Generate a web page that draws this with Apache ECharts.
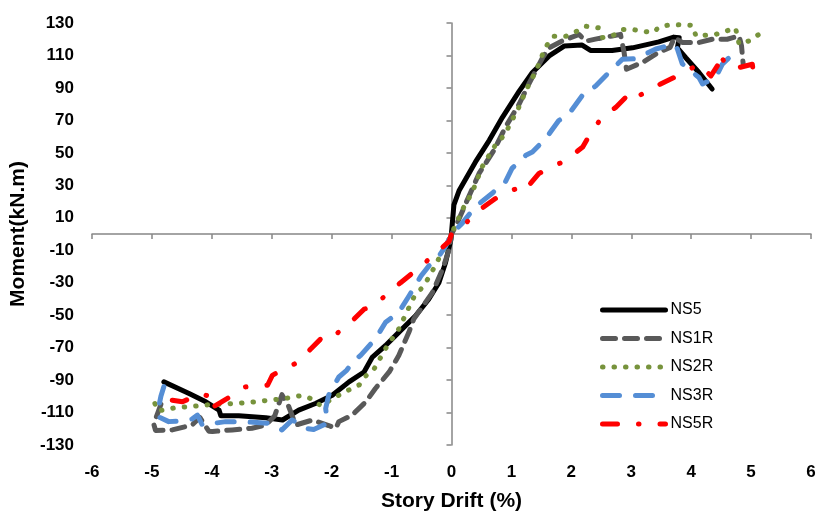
<!DOCTYPE html>
<html>
<head>
<meta charset="utf-8">
<script src="https://cdn.jsdelivr.net/npm/echarts@6/dist/echarts.min.js"></script>
<style>
  html, body { margin: 0; padding: 0; background: #ffffff; }
  #chart { width: 820px; height: 517px; }
</style>
</head>
<body>
<div id="chart"></div>
<script>
// Moment vs. story drift envelope curves, one [drift %, moment kN.m] list per specimen
const seriesNames = ['NS5', 'NS1R', 'NS2R', 'NS3R', 'NS5R'];

const ns5 = [
  [-4.80,-91.1],[-4.38,-98.3],[-4.10,-103.4],[-3.88,-108.5],[-3.85,-112],[-3.55,-112],
  [-3.10,-113.2],[-2.82,-114.6],[-2.55,-108.5],[-2.27,-104.4],[-1.99,-99.3],[-1.71,-91.1],
  [-1.46,-85],[-1.32,-75.8],[-1.10,-68.7],[-0.88,-60.6],[-0.60,-50.4],[-0.38,-40.2],
  [-0.21,-30],[-0.10,-17.7],[-0.01,-3.5],[0.04,17.9],[0.13,27],[0.40,44.4],[0.63,57.7],
  [0.85,71.9],[1.13,88],[1.35,99.5],[1.63,109.7],[1.88,115.8],[2.18,116.4],[2.32,113.1],
  [2.68,113.1],[3.02,114.7],[3.46,118.4],[3.71,121.3],[3.80,120.9],[3.77,114.7],
  [3.91,108.6],[4.13,99.5],[4.35,89.3]
];

const ns1r = [
  [-4.85,-105],[-4.90,-110],[-4.97,-117],[-4.94,-121],[-4.66,-120.7],[-4.33,-117.7],
  [-4.20,-113],[-4.05,-121.5],[-3.99,-121.7],[-3.66,-120.7],[-3.33,-119.7],[-3.10,-117.7],
  [-2.95,-112],[-2.83,-99],[-2.72,-106],[-2.60,-117.7],[-2.32,-114.6],[-2.05,-118],
  [-1.93,-119.7],[-1.88,-115.6],[-1.66,-111.6],[-1.43,-103.4],[-1.27,-95.2],[-1.04,-85],
  [-0.88,-74.9],[-0.71,-60.4],[-0.63,-52.4],[-0.32,-36.1],[-0.15,-21.8],[-0.04,-9.6],
  [0,0],[0.07,4.6],[0.24,19],[0.46,37.3],[0.71,51.6],[0.90,65.8],[1.13,80.1],[1.29,92.4],
  [1.52,108.6],[1.63,114.7],[1.85,119],[2.13,122.9],[2.24,118.8],[2.46,120.5],[2.68,122],
  [2.82,123],[2.88,112],[2.92,101.5],[3.20,106],[3.46,112],[3.65,115],[3.72,121],
  [3.85,118],[4.13,118],[4.35,120],[4.60,120],[4.80,122],[4.84,116],[4.87,104]
];

const ns2r = [
  [-4.95,-104.5],[-4.90,-109],[-4.60,-107],[-4.38,-106.4],[-4.00,-105],[-3.60,-104.4],
  [-3.27,-103.4],[-3.05,-102.4],[-2.77,-101.3],[-2.50,-99.5],[-2.30,-102],[-2.18,-106],
  [-1.99,-101.5],[-1.71,-96],[-1.54,-93],[-1.43,-87.5],[-1.29,-83],[-1.07,-68.7],
  [-0.88,-58.5],[-0.71,-45.3],[-0.63,-39.1],[-0.49,-33],[-0.40,-28],[-0.26,-18.8],
  [-0.21,-15],[-0.07,-5.5],[0,0],[0.18,14.9],[0.35,26],[0.51,41.3],[0.71,53.6],
  [0.90,61.8],[0.99,68.9],[1.10,76],[1.24,88.3],[1.41,100.5],[1.52,110.7],[1.60,116.8],
  [1.71,121.9],[1.91,121.9],[2.07,124.5],[2.24,128],[2.46,127],[2.52,121],[2.68,122],
  [2.85,126],[3.02,126],[3.35,124],[3.49,128],[3.69,129],[4.02,128.6],[4.08,122],
  [4.41,123],[4.58,125],[4.74,127],[4.80,117],[4.97,119],[5.13,123],[5.15,128]
];

const ns3r = [
  [-4.80,-94],[-4.85,-100],[-4.88,-105.4],[-4.90,-112.5],[-4.72,-115.6],[-4.45,-115],
  [-4.33,-114],[-4.24,-111.6],[-4.16,-117.7],[-3.77,-115.6],[-3.49,-115.6],[-3.05,-116.6],
  [-2.83,-120.7],[-2.66,-114.6],[-2.43,-119.7],[-2.30,-120.5],[-2.07,-116.6],[-2.10,-107.5],
  [-2.05,-99.3],[-1.88,-88.1],[-1.75,-84],[-1.63,-77.9],[-1.52,-74.9],[-1.27,-64.6],
  [-1.10,-54.4],[-0.88,-48.3],[-0.71,-38.2],[-0.51,-25.9],[-0.38,-19.8],[-0.21,-13.7],
  [-0.10,-7.6],[0,0],[0.18,6.7],[0.40,16.9],[0.68,25.1],[0.90,32.2],[1.01,40.4],
  [1.24,48.5],[1.35,50.5],[1.57,58.7],[1.79,69.9],[1.96,74],[2.18,85.2],[2.41,91.3],
  [2.68,101.5],[2.85,107.6],[3.08,108],[3.41,114],[3.71,117],[3.77,114],[3.85,105],
  [4.13,96.4],[4.19,92.4],[4.41,96.4],[4.52,104.6],[4.72,111.7],[4.78,110]
];

const ns5r = [
  [-4.66,-102.4],[-4.49,-103.4],[-4.19,-98.3],[-4.02,-100.3],[-4.02,-107.5],[-3.74,-101.3],
  [-3.44,-94.2],[-3.07,-93.2],[-2.99,-87.1],[-2.80,-83],[-2.55,-78.9],[-2.35,-70.8],
  [-2.10,-61.6],[-1.96,-62.6],[-1.71,-55.5],[-1.46,-46.3],[-1.35,-45.3],[-1.07,-37.1],
  [-0.85,-30],[-0.54,-20.8],[-0.32,-13.7],[-0.04,-4.5],[0,0],[0.24,6.7],[0.43,13.8],
  [0.74,22],[1.00,27],[1.13,28.1],[1.20,26],[1.46,37.3],[1.68,41.3],[1.91,45.4],
  [2.19,53.6],[2.38,65.8],[2.55,73],[2.74,78],[3.02,88.3],[3.13,85.2],[3.49,92.4],
  [3.83,98.5],[4.13,104.6],[4.33,97.4],[4.49,106.6],[4.44,110.7],[4.69,101.5],
  [5.02,104.6],[5.05,97],[4.97,96.4]
];

// Axis tick labels
const xTickLabels = ['-6','-5','-4','-3','-2','-1','0','1','2','3','4','5','6'];
const yTickLabels = ['-130','-110','-90','-70','-50','-30','-10','10','30','50','70','90','110','130'];

const FONT = "'Liberation Sans', Arial, sans-serif";
const AXIS_GRAY = '#868686';

// Line look for each specimen: colour, width, dash pattern
const styles = {
  NS5:  { color: '#000000', width: 5, type: 'solid' },
  NS1R: { color: '#595959', width: 5, type: [13, 9] },
  NS2R: { color: '#77933C', width: 5, type: [0.5, 11] },
  NS3R: { color: '#558ED5', width: 5, type: [17, 16] },
  NS5R: { color: '#FF0000', width: 5, type: [15, 21, 0.5, 21] }
};
const dataByName = { NS5: ns5, NS1R: ns1r, NS2R: ns2r, NS3R: ns3r, NS5R: ns5r };

const lineStyleOf = (name) => ({
  color: styles[name].color,
  width: styles[name].width,
  type: styles[name].type,
  cap: 'round',
  join: 'round'
});

const chart = echarts.init(document.getElementById('chart'), null, { renderer: 'canvas' });

chart.setOption({
  animation: false,
  backgroundColor: '#ffffff',
  grid: { left: 92, right: 9, top: 23, bottom: 69, containLabel: false },
  legend: {
    orient: 'vertical',
    left: 595,
    top: 297,
    itemWidth: 63,
    itemHeight: 14,
    itemGap: 12.5,
    itemStyle: { opacity: 0 },
    textStyle: { fontFamily: FONT, fontSize: 16, color: '#000000' },
    data: seriesNames.map((n) => ({ name: n, lineStyle: lineStyleOf(n) }))
  },
  xAxis: [
    {
      // axis line through moment = 0, with ticks only
      type: 'value', min: -6, max: 6, interval: 1, position: 'bottom',
      axisLine: { show: true, onZero: true, onZeroAxisIndex: 0, lineStyle: { color: AXIS_GRAY, width: 1.5 } },
      axisTick: { show: true, length: 5, lineStyle: { color: AXIS_GRAY, width: 1.5 } },
      axisLabel: { show: false },
      splitLine: { show: false }
    },
    {
      // tick labels and title along the bottom edge
      type: 'value', min: -6, max: 6, interval: 1, position: 'bottom',
      axisLine: { show: false, onZero: false },
      axisTick: { show: false },
      splitLine: { show: false },
      axisLabel: {
        margin: 19, fontSize: 17, fontWeight: 'bold', color: '#000000', fontFamily: FONT,
        formatter: (v) => xTickLabels[Math.round(v + 6)]
      },
      name: 'Story Drift (%)', nameLocation: 'middle', nameGap: 46,
      nameTextStyle: { fontSize: 21, fontWeight: 'bold', color: '#000000', fontFamily: FONT }
    }
  ],
  yAxis: [
    {
      // data axis
      type: 'value', min: -130, max: 130, position: 'left', show: false,
      splitLine: { show: false }
    },
    {
      // axis line through drift = 0, ticks at the odd tens
      type: 'value', min: 0, max: 260, interval: 20, position: 'left',
      axisLine: { show: true, onZero: true, onZeroAxisIndex: 0, lineStyle: { color: AXIS_GRAY, width: 1.5 } },
      axisTick: { show: true, length: 5, lineStyle: { color: AXIS_GRAY, width: 1.5 } },
      axisLabel: { show: false },
      splitLine: { show: false }
    },
    {
      // tick labels and title along the left edge
      type: 'value', min: 0, max: 260, interval: 20, position: 'left',
      axisLine: { show: false, onZero: false },
      axisTick: { show: false },
      splitLine: { show: false },
      axisLabel: {
        margin: 18, fontSize: 17, fontWeight: 'bold', color: '#000000', fontFamily: FONT,
        formatter: (v) => yTickLabels[Math.round(v / 20)]
      },
      name: 'Moment(kN.m)', nameLocation: 'middle', nameGap: 57, nameRotate: 90,
      nameTextStyle: { fontSize: 21, fontWeight: 'bold', color: '#000000', fontFamily: FONT }
    }
  ],
  series: seriesNames.map((n) => ({
    name: n,
    type: 'line',
    xAxisIndex: 0,
    yAxisIndex: 0,
    data: dataByName[n],
    symbol: 'none',
    smooth: false,
    color: styles[n].color,
    itemStyle: { color: styles[n].color },
    lineStyle: lineStyleOf(n)
  }))
});
</script>
</body>
</html>
